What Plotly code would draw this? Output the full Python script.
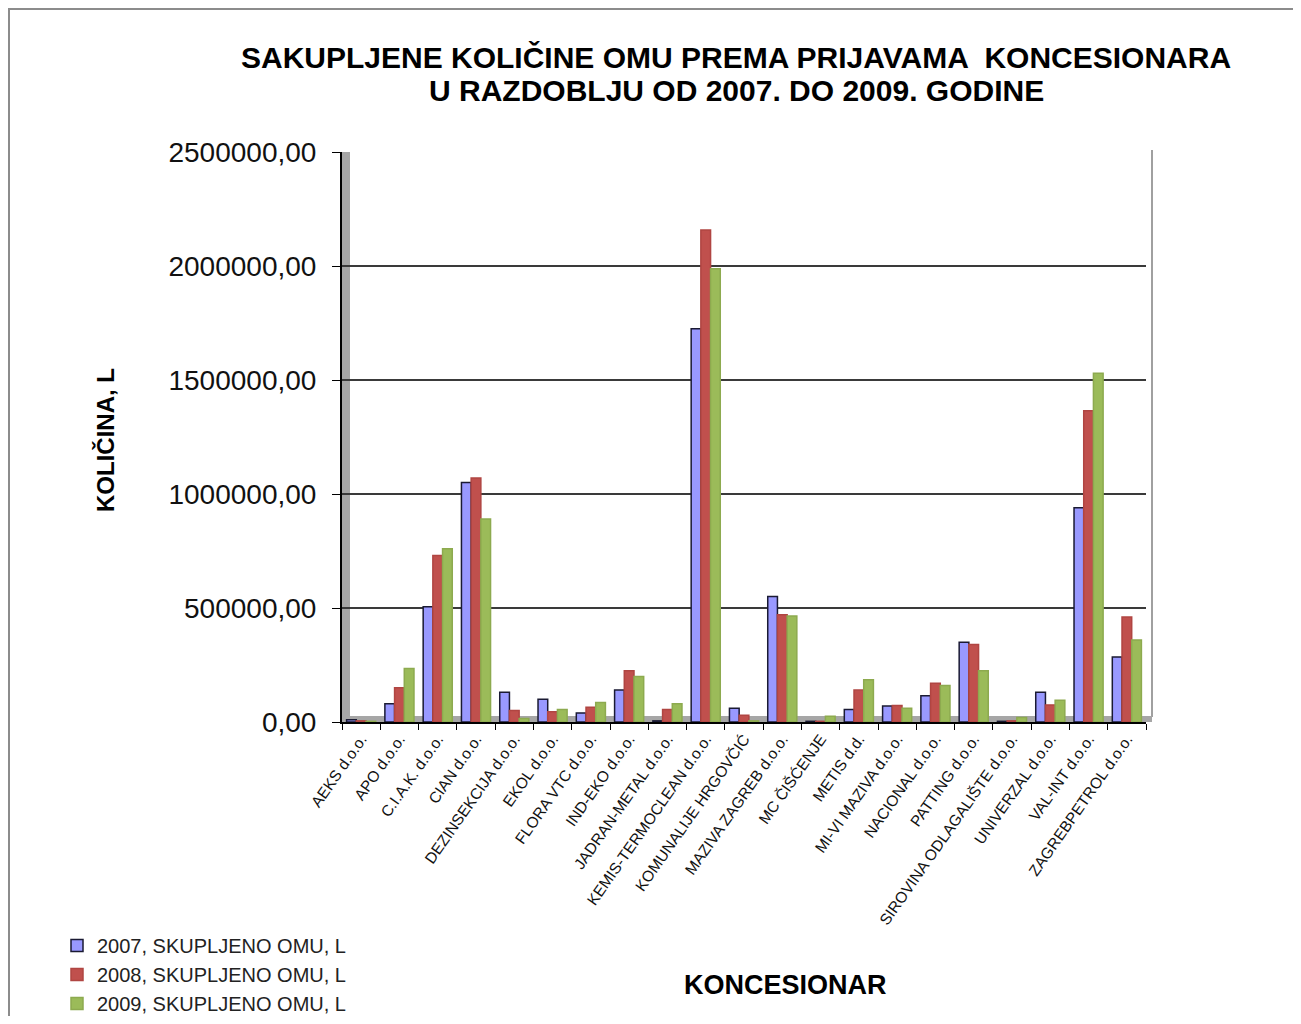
import plotly.graph_objects as go

categories = ["AEKS d.o.o.", "APO d.o.o.", "C.I.A.K. d.o.o.", "CIAN d.o.o.", "DEZINSEKCIJA d.o.o.",
              "EKOL d.o.o.", "FLORA VTC d.o.o.", "IND-EKO d.o.o.", "JADRAN-METAL d.o.o.",
              "KEMIS-TERMOCLEAN d.o.o.", "KOMUNALIJE HRGOVČIĆ", "MAZIVA ZAGREB d.o.o.", "MC ČIŠĆENJE",
              "METIS d.d.", "MI-VI MAZIVA d.o.o.", "NACIONAL d.o.o.", "PATTING d.o.o.",
              "SIROVINA ODLAGALIŠTE d.o.o.", "UNIVERZAL d.o.o.", "VAL-INT d.o.o.", "ZAGREBPETROL d.o.o."]

y2007 = [10000, 80000, 505000, 1050000, 130000, 100000, 40000, 140000, 5000, 1725000, 60000,
         550000, 3000, 55000, 70000, 115000, 350000, 3000, 130000, 940000, 285000]
y2008 = [5000, 150000, 730000, 1070000, 50000, 45000, 65000, 225000, 55000, 2158000, 30000,
         470000, 3000, 140000, 72000, 170000, 340000, 5000, 75000, 1365000, 460000]
y2009 = [3000, 235000, 760000, 890000, 15000, 55000, 85000, 200000, 80000, 1988000, 5000,
         465000, 25000, 185000, 60000, 160000, 225000, 20000, 95000, 1530000, 360000]

series_names = ["2007, SKUPLJENO OMU, L", "2008, SKUPLJENO OMU, L", "2009, SKUPLJENO OMU, L"]
colors = ["#9999FF", "#C0504D", "#9BBB59"]
line_colors = ["#1a1a33", "#B04542", "#8DAA4F"]

ytick_vals = [0, 500000, 1000000, 1500000, 2000000, 2500000]
ytick_text = ["0,00", "500000,00", "1000000,00", "1500000,00", "2000000,00", "2500000,00"]

title_lines = ["SAKUPLJENE KOLIČINE OMU PREMA PRIJAVAMA  KONCESIONARA",
               "U RAZDOBLJU OD 2007. DO 2009. GODINE"]

FONT = "Liberation Sans, Arial, sans-serif"

fig = go.Figure()
for name, vals, c, lc in zip(series_names, [y2007, y2008, y2009], colors, line_colors):
    fig.add_trace(go.Bar(x=categories, y=vals, name=name,
                         marker=dict(color=c, line=dict(color=lc, width=1.5))))

# page has an 8px body margin, so figure coords = reference coords - 8
W, H = 1285, 1008
OFF = 8
L, R, T, B = 342 - OFF, 1146 - OFF, 152 - OFF, 722 - OFF
pw, ph = R - L, B - T


def px_x(p):
    return (p - OFF - L) / pw


def px_y(p):
    return (B - (p - OFF)) / ph


fig.update_layout(
    width=W, height=H,
    margin=dict(l=L, r=W - R, t=T, b=H - B, autoexpand=False),
    paper_bgcolor="white", plot_bgcolor="white",
    barmode="group", bargap=0.24, bargroupgap=0.0,
    font=dict(family=FONT, color="#000"),
    xaxis=dict(tickangle=-55, tickfont=dict(size=15.5, family=FONT, color="#111"), ticks="outside",
               tickson="boundaries", ticklen=6, tickcolor="#000", showline=True, linecolor="#000",
               linewidth=2, showgrid=False, automargin=False),
    yaxis=dict(range=[0, 2500000], tickvals=ytick_vals, ticktext=ytick_text,
               tickfont=dict(size=28, family=FONT, color="#111"), ticklabelstandoff=10,
               ticks="outside", ticklen=8, tickcolor="#000", showline=True, linecolor="#000", linewidth=2,
               gridcolor="#3a3a3a", gridwidth=1.8, zeroline=False, automargin=False),
    legend=dict(x=px_x(57), y=px_y(926), xanchor="left", yanchor="top",
                font=dict(size=20, family=FONT, color="#222"),
                bgcolor="rgba(0,0,0,0)", tracegroupgap=0, itemwidth=30),
    showlegend=True,
    annotations=[
        dict(text="<b>" + title_lines[0] + "</b>", x=px_x(736), y=px_y(58), xref="paper", yref="paper",
             xanchor="center", yanchor="middle",
             showarrow=False, font=dict(size=30, family=FONT, color="#000")),
        dict(text="<b>" + title_lines[1] + "</b>", x=px_x(736), y=px_y(90), xref="paper", yref="paper",
             xanchor="center", yanchor="middle",
             showarrow=False, font=dict(size=30, family=FONT, color="#000")),
        dict(text="<b>KOLIČINA, L</b>", x=px_x(105), y=px_y(440), xref="paper", yref="paper", textangle=-90,
             xanchor="center", yanchor="middle",
             showarrow=False, font=dict(size=24, family=FONT, color="#000")),
        dict(text="<b>KONCESIONAR</b>", x=px_x(785), y=px_y(985), xref="paper", yref="paper",
             xanchor="center", yanchor="middle",
             showarrow=False, font=dict(size=27, family=FONT, color="#000")),
    ],
    shapes=[
        # outer chart border
        dict(type="rect", xref="paper", yref="paper", x0=px_x(9), x1=px_x(1330), y0=px_y(1060), y1=px_y(9),
             line=dict(color="#8c8c8c", width=2), fillcolor="rgba(0,0,0,0)", layer="below"),
        # left wall
        dict(type="rect", xref="paper", yref="paper", x0=px_x(341), x1=px_x(350), y0=0, y1=px_y(152),
             line=dict(width=0), fillcolor="#a6a6a6", layer="below"),
        # back wall right edge
        dict(type="line", xref="paper", yref="paper", x0=px_x(1152), x1=px_x(1152), y0=px_y(717), y1=px_y(150),
             line=dict(color="#a0a0a0", width=2), layer="below"),
        # floor
        dict(type="rect", xref="paper", yref="paper", x0=px_x(343), x1=px_x(1152), y0=0, y1=px_y(716),
             line=dict(width=0), fillcolor="#a6a6a6", layer="below"),
    ],
)

fig.write_html("out.html")
